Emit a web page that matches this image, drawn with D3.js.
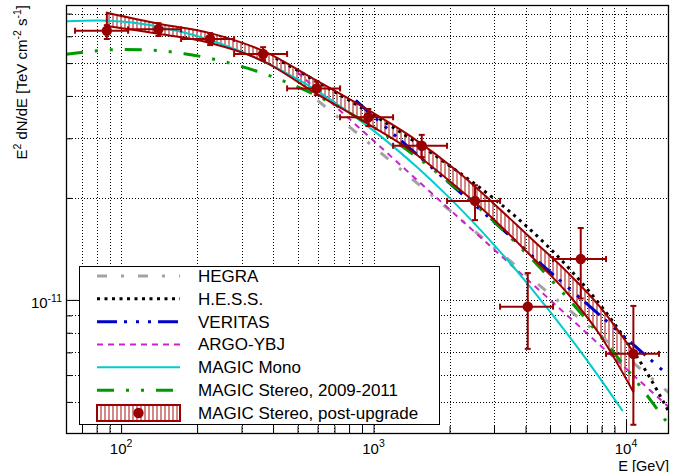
<!DOCTYPE html>
<html>
<head>
<meta charset="utf-8">
<script src="https://cdn.jsdelivr.net/npm/d3@7"></script>
<style>
  body { margin: 0; background: #fff; }
  svg { display: block; }
  text { font-family: "Liberation Sans", Arial, Helvetica, sans-serif; fill: #000; }
</style>
</head>
<body>
<svg id="chart" width="691" height="472"></svg>
<script>
// Crab Nebula SED: energies in GeV, E^2 dN/dE in TeV cm^-2 s^-1

// Reference spectra (sampled along each published fit)
const hegraE = [600, 1000, 2000, 5000, 10000, 14800];
const hegraF = [3.88e-11, 2.83e-11, 1.84e-11, 1.04e-11, 6.79e-12, 5.32e-12];

const hessE = [410, 600, 1000, 1500, 2000, 3000, 4000, 6000, 8000, 10000, 12000, 14800];
const hessF = [5.17e-11, 4.40e-11, 3.51e-11, 2.89e-11, 2.49e-11, 1.99e-11, 1.66e-11, 1.23e-11, 9.55e-12, 7.61e-12, 6.16e-12, 4.67e-12];

const veritasE = [850, 1000, 1500, 2000, 3000, 5000, 7000, 10000, 14800];
const veritasF = [3.88e-11, 3.48e-11, 2.67e-11, 2.21e-11, 1.70e-11, 1.21e-11, 9.74e-12, 7.71e-12, 5.96e-12];

const argoE = [500, 1000, 2000, 5000, 10000, 14800];
const argoF = [4.69e-11, 2.95e-11, 1.85e-11, 1.00e-11, 6.27e-12, 4.82e-12];

const monoE = [60.5, 80, 100, 150, 200, 300, 500, 700, 1000, 1500, 2000, 3000, 4000, 5000, 7000, 9700];
const monoF = [6.64e-11, 6.68e-11, 6.63e-11, 6.34e-11, 6.01e-11, 5.40e-11, 4.48e-11, 3.83e-11, 3.16e-11, 2.45e-11, 2.00e-11, 1.454e-11, 1.135e-11, 9.23e-12, 6.64e-12, 4.70e-12];

const stereoE = [60.5, 100, 130, 178, 316, 562, 1000, 1778, 3162, 5623, 10000, 14800];
const stereoF = [5.31e-11, 5.48e-11, 5.46e-11, 5.33e-11, 4.83e-11, 4.09e-11, 3.23e-11, 2.38e-11, 1.64e-11, 1.05e-11, 6.30e-12, 4.27e-12];

// MAGIC post-upgrade: flux points with bin edges and errors
const ptE    = [87.8, 140.5, 225.2, 365.1, 595.7, 953.7, 1552, 2523, 4081, 6616, 10694];
const ptElo  = [65.7, 106.6, 172.8, 280.3, 454.5, 736.9, 1195, 1955, 3170, 5140, 8335];
const ptEhi  = [106.6, 172.8, 280.3, 454.5, 736.9, 1195, 1955, 3170, 5140, 8335, 13510];
const ptF    = [6.23e-11, 6.29e-11, 5.89e-11, 5.32e-11, 4.21e-11, 3.46e-11, 2.85e-11, 1.96e-11, 9.55e-12, 1.32e-11, 6.93e-12];
const ptFlo  = [5.89e-11, 6.01e-11, 5.65e-11, 5.10e-11, 4.02e-11, 3.26e-11, 2.64e-11, 1.72e-11, 7.17e-12, 1.01e-11, 4.28e-12];
const ptFhi  = [6.47e-11, 6.56e-11, 6.13e-11, 5.57e-11, 4.41e-11, 3.66e-11, 3.07e-11, 2.18e-11, 1.20e-11, 1.63e-11, 9.60e-12];

// MAGIC post-upgrade: fit uncertainty band
const bandE  = [87.8, 142.7, 225.2, 365.1, 597.3, 968.5, 1395, 2142, 2893, 4282, 5839, 7889, 10694];
const bandHi = [7.04e-11, 6.52e-11, 6.13e-11, 5.43e-11, 4.43e-11, 3.61e-11, 3.05e-11, 2.40e-11, 1.97e-11, 1.50e-11, 1.21e-11, 9.54e-12, 7.02e-12];
const bandLo = [6.43e-11, 6.09e-11, 5.73e-11, 5.07e-11, 4.05e-11, 3.28e-11, 2.77e-11, 2.15e-11, 1.77e-11, 1.33e-11, 1.05e-11, 7.88e-12, 5.35e-12];

// Axis ticks
const xMajor = [100, 1000, 10000];
const xMinor = [70, 80, 90, 200, 300, 400, 500, 600, 700, 800, 900,
                2000, 3000, 4000, 5000, 6000, 7000, 8000, 9000];
const xLabels = ["2", "3", "4"];
const yMajor = [1e-11];
const yMinor = [5e-12, 6e-12, 7e-12, 8e-12, 9e-12, 2e-11, 3e-11, 4e-11, 5e-11, 6e-11, 7e-11];
const yLabels = ["-11"];

// Legend entries
const legendLabels = ["HEGRA", "H.E.S.S.", "VERITAS", "ARGO-YBJ", "MAGIC Mono",
                      "MAGIC Stereo, 2009-2011", "MAGIC Stereo, post-upgrade"];

// ---------- drawing ----------
const frame = { left: 66, right: 669, top: 5, bottom: 434 };
const svg = d3.select("#chart");

const x = d3.scaleLog().domain([60.5, 14800]).range([frame.left, frame.right]);
const y = d3.scaleLog().domain([4.02e-12, 7.42e-11]).range([frame.bottom, frame.top]);

const dark = "#990000";
const hatchColor = "#cc7272";

const styles = [
  { color: "#a3a3a3", width: 3,   dash: "10 14 3 14" },          // HEGRA
  { color: "#000000", width: 3,   dash: "3 4.5" },               // H.E.S.S.
  { color: "#0000cc", width: 3,   dash: "20 7 3 9 3 9 3 7" },    // VERITAS
  { color: "#cc22cc", width: 2,   dash: "6 5" },                 // ARGO-YBJ
  { color: "#00cccc", width: 2,   dash: null },                  // MAGIC Mono
  { color: "#009900", width: 3,   dash: "17 12 3 12 3 12" }      // MAGIC Stereo 2009-2011
];

const defs = svg.append("defs");
defs.append("clipPath").attr("id", "plotArea")
  .append("rect")
  .attr("x", frame.left).attr("y", frame.top)
  .attr("width", frame.right - frame.left).attr("height", frame.bottom - frame.top);

const hatch = defs.append("pattern")
  .attr("id", "vhatch")
  .attr("patternUnits", "userSpaceOnUse")
  .attr("width", 4).attr("height", 10);
hatch.append("line")
  .attr("x1", 1).attr("x2", 1).attr("y1", 0).attr("y2", 10)
  .attr("stroke", hatchColor).attr("stroke-width", 1.7);

// grid
const grid = svg.append("g").attr("stroke", "#000").attr("stroke-width", 1)
  .attr("stroke-dasharray", "1 2").attr("shape-rendering", "crispEdges");
grid.selectAll(".gx").data(xMajor.concat(xMinor)).join("line")
  .attr("x1", d => Math.round(x(d)) + 0.5).attr("x2", d => Math.round(x(d)) + 0.5)
  .attr("y1", frame.top).attr("y2", frame.bottom);
grid.selectAll(".gy").data(yMajor.concat(yMinor)).join("line")
  .attr("y1", d => Math.round(y(d)) + 0.5).attr("y2", d => Math.round(y(d)) + 0.5)
  .attr("x1", frame.left).attr("x2", frame.right);

const plot = svg.append("g").attr("clip-path", "url(#plotArea)");

const line = d3.line().x(d => x(d[0])).y(d => y(d[1])).curve(d3.curveMonotoneX);
const zip = (a, b) => a.map((v, i) => [v, b[i]]);

// band fill
const bandArea = d3.area()
  .x(d => x(d[0])).y0(d => y(d[1])).y1(d => y(d[2]))
  .curve(d3.curveMonotoneX);
const bandData = bandE.map((e, i) => [e, bandLo[i], bandHi[i]]);
plot.append("path").datum(bandData)
  .attr("d", bandArea).attr("fill", "url(#vhatch)");

// reference curves
const curves = [
  zip(hegraE, hegraF), zip(hessE, hessF), zip(veritasE, veritasF),
  zip(argoE, argoF), zip(monoE, monoF), zip(stereoE, stereoF)
];
curves.forEach((c, i) => {
  const s = styles[i];
  plot.append("path").datum(c)
    .attr("d", line)
    .attr("fill", "none")
    .attr("stroke", s.color)
    .attr("stroke-width", s.width)
    .attr("stroke-dasharray", s.dash);
});

// band outline
plot.append("path").datum(bandData)
  .attr("d", bandArea).attr("fill", "none")
  .attr("stroke", dark).attr("stroke-width", 2).attr("stroke-linejoin", "miter");

// flux points
const cap = 3;
const pts = plot.append("g").attr("stroke", dark).attr("stroke-width", 2);
ptE.forEach((e, i) => {
  const cx = x(e), cy = y(ptF[i]);
  const xl = x(ptElo[i]), xr = x(ptEhi[i]);
  const yt = y(ptFhi[i]), yb = y(ptFlo[i]);
  pts.append("line").attr("x1", xl).attr("x2", xr).attr("y1", cy).attr("y2", cy);
  pts.append("line").attr("x1", cx).attr("x2", cx).attr("y1", yt).attr("y2", yb);
  pts.append("line").attr("x1", xl).attr("x2", xl).attr("y1", cy - cap).attr("y2", cy + cap);
  pts.append("line").attr("x1", xr).attr("x2", xr).attr("y1", cy - cap).attr("y2", cy + cap);
  pts.append("line").attr("x1", cx - cap).attr("x2", cx + cap).attr("y1", yt).attr("y2", yt);
  pts.append("line").attr("x1", cx - cap).attr("x2", cx + cap).attr("y1", yb).attr("y2", yb);
  pts.append("circle").attr("cx", cx).attr("cy", cy).attr("r", 5.2)
    .attr("fill", dark).attr("stroke", "none");
});

// axes with inward ticks
const axX = svg.append("g").attr("transform", `translate(0,${frame.bottom})`);
axX.append("g").call(d3.axisBottom(x).tickValues(xMajor).tickSizeInner(-14).tickSizeOuter(0).tickFormat(""));
axX.append("g").call(d3.axisBottom(x).tickValues(xMinor).tickSizeInner(-8).tickSizeOuter(0).tickFormat(""));
const axY = svg.append("g").attr("transform", `translate(${frame.left},0)`);
axY.append("g").call(d3.axisLeft(y).tickValues(yMajor).tickSizeInner(-12).tickSizeOuter(0).tickFormat(""));
axY.append("g").call(d3.axisLeft(y).tickValues(yMinor).tickSizeInner(-6).tickSizeOuter(0).tickFormat(""));
svg.selectAll(".domain").remove();
svg.selectAll(".tick line").attr("stroke", "#000").attr("stroke-width", 1);

// frame
svg.append("rect")
  .attr("x", frame.left + 0.5).attr("y", frame.top + 0.5)
  .attr("width", frame.right - frame.left - 1).attr("height", frame.bottom - frame.top - 1)
  .attr("fill", "none").attr("stroke", "#000").attr("stroke-width", 1.3);

// tick labels
xMajor.forEach((v, i) => {
  const t = svg.append("text").attr("x", x(v)).attr("y", 454)
    .attr("text-anchor", "middle").attr("font-size", 15);
  t.append("tspan").text("10");
  t.append("tspan").attr("font-size", 10.5).attr("dy", -7).text(xLabels[i]);
});
yMajor.forEach((v, i) => {
  const t = svg.append("text").attr("x", 62).attr("y", y(v) + 8)
    .attr("text-anchor", "end").attr("font-size", 15);
  t.append("tspan").text("10");
  t.append("tspan").attr("font-size", 10.5).attr("dy", -6).text(yLabels[i]);
});

// axis titles
const yt = svg.append("text")
  .attr("transform", `translate(26.5,${frame.top}) rotate(-90)`)
  .attr("text-anchor", "end").attr("font-size", 15);
yt.append("tspan").text("E");
yt.append("tspan").attr("font-size", 10.5).attr("dy", -6).text("2");
yt.append("tspan").attr("dy", 6).text(" dN/dE [TeV cm");
yt.append("tspan").attr("font-size", 10.5).attr("dy", -6).text("-2");
yt.append("tspan").attr("dy", 6).text(" s");
yt.append("tspan").attr("font-size", 10.5).attr("dy", -6).text("-1");
yt.append("tspan").attr("dy", 6).text("]");

svg.append("text").attr("x", frame.right).attr("y", 470.5)
  .attr("text-anchor", "end").attr("font-size", 14.5).text("E [GeV]");

// legend
const lg = { x: 79, y: 266, w: 360, h: 158, row0: 276, step: 22.83, s0: 97, s1: 180, tx: 198 };
const legend = svg.append("g");
legend.append("rect")
  .attr("x", lg.x + 0.5).attr("y", lg.y + 0.5).attr("width", lg.w).attr("height", lg.h)
  .attr("fill", "#fff").attr("stroke", "#000").attr("stroke-width", 1);
legendLabels.forEach((lab, i) => {
  const ry = lg.row0 + i * lg.step;
  if (i < styles.length) {
    const s = styles[i];
    legend.append("line")
      .attr("x1", lg.s0).attr("x2", lg.s1).attr("y1", ry).attr("y2", ry)
      .attr("stroke", s.color).attr("stroke-width", s.width)
      .attr("stroke-dasharray", s.dash);
  } else {
    legend.append("rect")
      .attr("x", lg.s0).attr("y", ry - 8).attr("width", lg.s1 - lg.s0).attr("height", 16)
      .attr("fill", "url(#vhatch)").attr("stroke", dark).attr("stroke-width", 2);
    legend.append("circle").attr("cx", (lg.s0 + lg.s1) / 2).attr("cy", ry).attr("r", 5.2)
      .attr("fill", dark);
  }
  legend.append("text").attr("x", lg.tx).attr("y", ry + 6)
    .attr("font-size", 17).text(lab);
});
</script>
</body>
</html>
